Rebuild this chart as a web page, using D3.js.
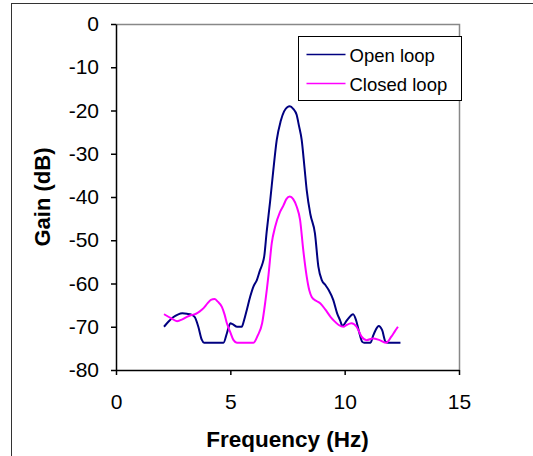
<!DOCTYPE html>
<html>
<head>
    <meta charset="utf-8">
    <title>Gain vs Frequency</title>
    <script src="https://d3js.org/d3.v7.min.js"></script>
    <style>
        body { margin: 0; background: #fff; }
        text { font-family: "Liberation Sans", Arial, sans-serif; fill: #000; }
    </style>
</head>
<body>
    <div id="chart"></div>

    <script>
        // values
        const openFreq = [2.1, 2.3, 2.5, 2.7, 2.9, 3.1, 3.3, 3.45, 3.6, 3.75, 3.85, 4.7, 4.85, 5.0, 5.1, 5.3, 5.5, 5.6, 5.72, 5.87,
            6.01, 6.16, 6.3, 6.4, 6.48, 6.59, 6.74, 6.88, 7.03, 7.2, 7.35, 7.5, 7.6, 7.75, 7.9, 8.0, 8.12, 8.24, 8.34, 8.5,
            8.7, 8.85, 9.0, 9.15, 9.3, 9.5, 9.67, 9.8, 9.9, 10.1, 10.37, 10.5, 10.62, 10.77, 10.85, 11.13, 11.25, 11.35,
            11.49, 11.64, 11.79, 11.9, 12.44];
        const openGain = [-70.0, -68.8, -67.8, -67.2, -66.9, -67.0, -67.2, -67.8, -70.0, -73.0, -73.7, -73.7, -71.5, -69.2, -69.4, -70.0, -70.0, -68.5, -66.1, -63.0,
            -60.7, -59.2, -56.9, -55.5, -53.8, -48.0, -41.0, -33.8, -26.8, -22.5, -20.2, -19.2, -19.0, -19.6, -21.0, -23.5, -26.8, -33.0, -38.4, -44.0,
            -48.4, -56.1, -59.2, -60.3, -61.5, -63.8, -66.9, -68.5, -69.8, -68.5, -67.1, -68.5, -71.0, -73.5, -73.7, -73.7, -72.0, -70.8,
            -69.8, -70.8, -73.5, -73.7, -73.7];

        const closedFreq = [2.1, 2.4, 2.67, 2.9, 3.1, 3.3, 3.5, 3.65, 3.83, 4.0, 4.15, 4.31, 4.45, 4.63, 4.75, 4.85, 5.0, 5.14, 5.29, 6.01,
            6.2, 6.39, 6.53, 6.67, 6.81, 6.96, 7.17, 7.32, 7.45, 7.6, 7.75, 7.9, 8.05, 8.19, 8.34, 8.45, 8.56, 8.75, 8.94, 9.15,
            9.38, 9.55, 9.74, 9.95, 10.08, 10.3, 10.52, 10.74, 10.96, 11.24, 11.53, 11.82, 12.04, 12.2, 12.33];
        const closedGain = [-67.1, -68.0, -68.7, -68.3, -67.7, -67.3, -67.0, -66.5, -65.7, -64.6, -63.8, -63.6, -64.2, -65.4, -67.2, -69.2, -71.3, -73.1, -73.7, -73.7,
            -72.0, -69.2, -64.2, -58.0, -50.7, -46.9, -43.5, -42.0, -40.5, -39.9, -40.5, -42.2, -45.3, -52.3, -58.4, -61.5, -63.1, -64.0, -64.6, -66.0,
            -67.7, -68.7, -69.6, -70.0, -69.6, -69.2, -70.0, -72.3, -73.1, -72.7, -73.1, -73.7, -72.3, -71.0, -70.0];

        const seriesNames = ["Open loop", "Closed loop"];
        const seriesColors = ["#000080", "#ff00ff"];
        const xTicks = [0, 5, 10, 15];
        const yTicks = [0, -10, -20, -30, -40, -50, -60, -70, -80];

        const W = 533, H = 456;
        const margin = { top: 24, right: 74, bottom: 86, left: 116 };
        const width = W - margin.left - margin.right;
        const height = H - margin.top - margin.bottom;

        const root = d3.select("#chart").append("svg")
            .attr("width", W)
            .attr("height", H);

        // outer frame
        root.append("rect")
            .attr("x", 11.5).attr("y", 3.5)
            .attr("width", 540).attr("height", 470)
            .attr("fill", "none")
            .attr("stroke", "#333")
            .attr("stroke-width", 1);

        const svg = root.append("g")
            .attr("transform", "translate(" + margin.left + "," + margin.top + ")");

        const x = d3.scaleLinear().domain([0, 15]).range([0, width]);
        const y = d3.scaleLinear().domain([-80, 0]).range([height, 0]);

        // plot frame (top and right in grey)
        svg.append("path")
            .attr("d", "M0,0.5H" + (width + 0.5) + "V" + height)
            .attr("fill", "none")
            .attr("stroke", "#888")
            .attr("stroke-width", 1.5);

        const xAxis = svg.append("g")
            .attr("transform", "translate(0," + height + ")")
            .call(d3.axisBottom(x).tickValues(xTicks).tickFormat(d => String(d))
                .tickSize(5).tickSizeOuter(0).tickPadding(19));

        const yAxis = svg.append("g")
            .call(d3.axisLeft(y).tickValues(yTicks).tickFormat(d => String(d))
                .tickSize(5).tickSizeOuter(0).tickPadding(12));

        [xAxis, yAxis].forEach(function (a) {
            a.select(".domain").attr("stroke", "#000").attr("stroke-width", 1.5);
            a.selectAll(".tick line").attr("stroke", "#000").attr("stroke-width", 1.5);
            a.selectAll(".tick text")
                .attr("font-size", 21)
                .attr("font-family", "Liberation Sans, Arial, sans-serif")
                .attr("fill", "#000");
        });

        const line = d3.line()
            .x(d => x(d[0]))
            .y(d => y(d[1]))
            .curve(d3.curveMonotoneX);

        const seriesData = [
            d3.zip(openFreq, openGain),
            d3.zip(closedFreq, closedGain)
        ];

        svg.selectAll(".series")
            .data(seriesData)
            .enter()
            .append("path")
            .attr("class", "series")
            .attr("d", line)
            .attr("fill", "none")
            .attr("stroke", (d, i) => seriesColors[i])
            .attr("stroke-width", 2);

        // axis titles
        svg.append("text")
            .attr("x", width / 2)
            .attr("y", height + 77)
            .attr("text-anchor", "middle")
            .attr("font-size", 22.5)
            .attr("font-weight", "bold")
            .text("Frequency (Hz)");

        svg.append("text")
            .attr("transform", "translate(" + (-66) + "," + (height / 2) + ") rotate(-90)")
            .attr("text-anchor", "middle")
            .attr("font-size", 22)
            .attr("font-weight", "bold")
            .text("Gain (dB)");

        // legend
        const legend = root.append("g").attr("transform", "translate(298.5,36.5)");
        legend.append("rect")
            .attr("width", 163).attr("height", 64)
            .attr("fill", "#fff")
            .attr("stroke", "#000")
            .attr("stroke-width", 1);

        seriesNames.forEach(function (name, i) {
            const ly = 18 + i * 29;
            legend.append("line")
                .attr("x1", 8).attr("x2", 47)
                .attr("y1", ly).attr("y2", ly)
                .attr("stroke", seriesColors[i])
                .attr("stroke-width", 1.5);
            legend.append("text")
                .attr("x", 51)
                .attr("y", ly + 7)
                .attr("font-size", 18.5)
                .text(name);
        });
    </script>
</body>
</html>
